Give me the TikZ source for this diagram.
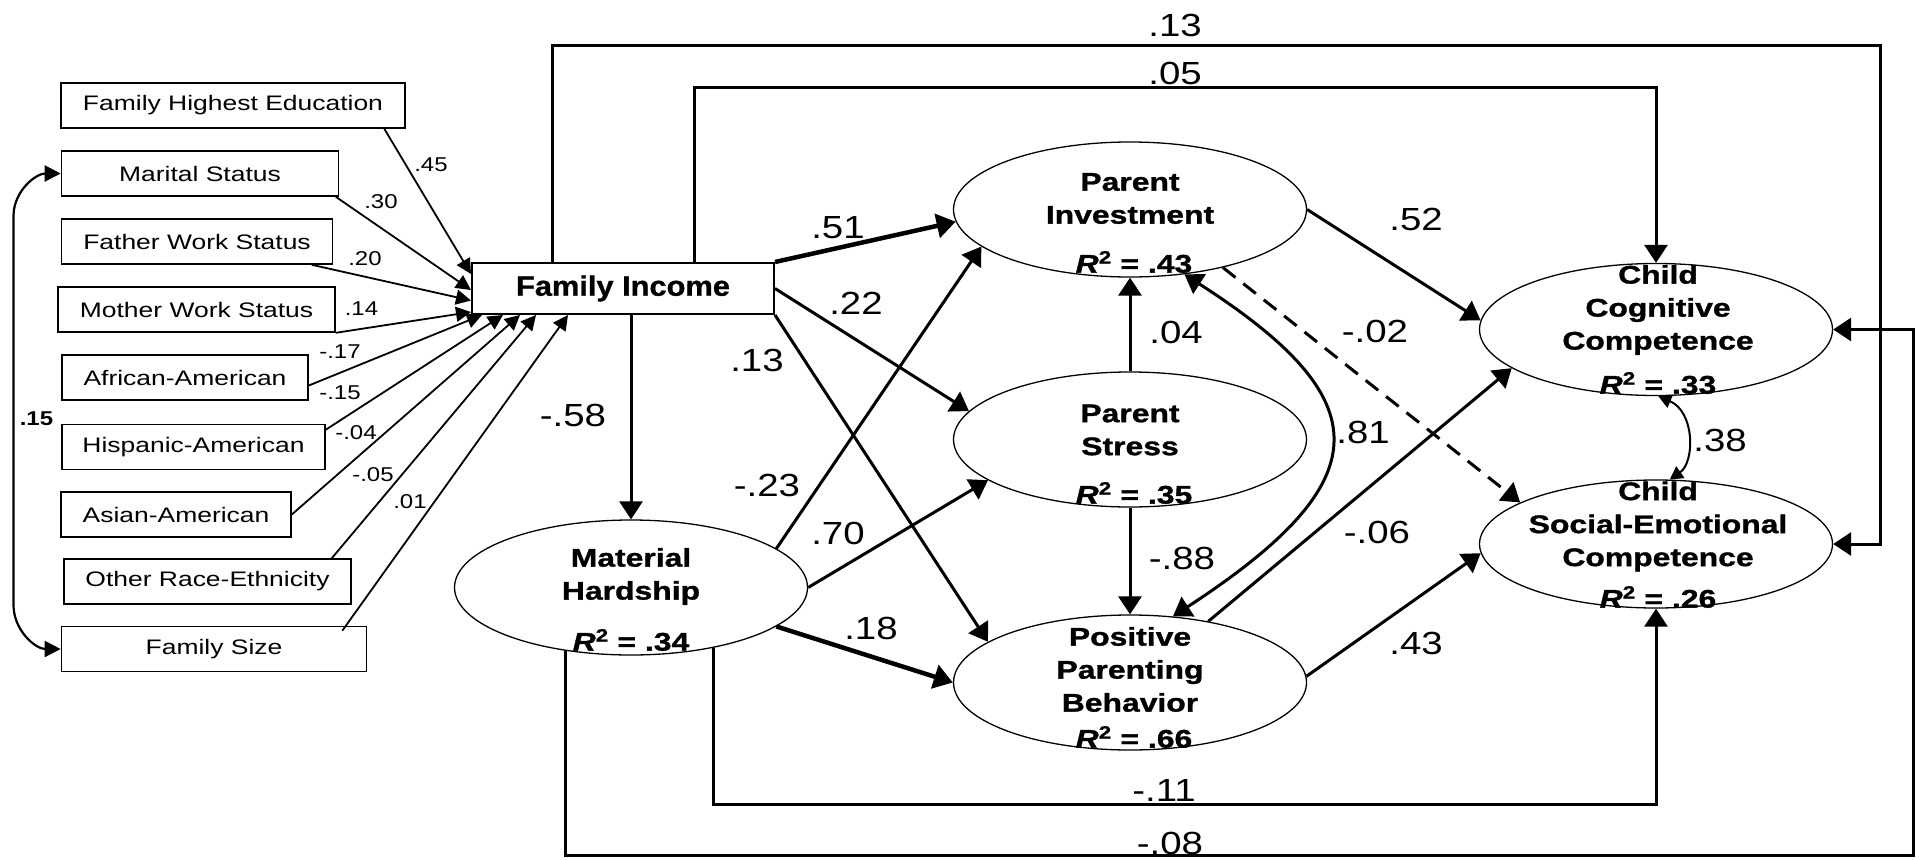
\documentclass[tikz,border=0pt]{standalone}
\usepackage{fontspec}
\setmainfont{Liberation Sans}
\newfontfamily\boxfont[FakeStretch=1.26]{Liberation Sans}
\newfontfamily\latfont[FakeStretch=1.25,FakeBold=1.2]{Liberation Sans}
\newfontfamily\headfont[FakeStretch=1.1,FakeBold=1]{Liberation Sans}
\newfontfamily\numfont[FakeStretch=1.2]{Liberation Sans}
\usetikzlibrary{shapes.geometric,arrows.meta,calc}
\newcommand{\Rsq}[1]{\textit{R}\textsuperscript{2} = #1}

\begin{document}
\begin{tikzpicture}[x=1pt, y=1pt,
    var/.style={draw, line width=1.6pt, minimum height=45pt, inner sep=0pt, font=\boxfont\fontsize{21}{24}\selectfont},
    latent/.style={draw, ellipse, line width=1.3pt, minimum width=353pt, minimum height=132pt, inner sep=0pt},
    lbltext/.style={font=\latfont\bfseries\fontsize{25.5}{33}\selectfont, align=center, inner sep=0pt},
    rsq/.style={font=\latfont\bfseries\fontsize{25.5}{33}\selectfont, inner sep=0pt},
    coef/.style={font=\numfont\fontsize{32}{32}\selectfont, inner sep=0pt},
    smallcoef/.style={font=\numfont\fontsize{20}{20}\selectfont, inner sep=0pt},
    covar/.style={line width=1.8pt, -{Triangle[length=15pt,width=15pt]}},
    effect/.style={line width=3pt, -{Triangle[length=18pt,width=23pt]}},
    bigeffect/.style={line width=4.5pt, -{Triangle[length=19pt,width=24pt]}},
    twoway/.style={line width=3pt, {Triangle[length=18pt,width=23pt]}-{Triangle[length=18pt,width=23pt]}},
    corr/.style={line width=2pt, {Triangle[length=13pt,width=14pt]}-{Triangle[length=13pt,width=14pt]}}]

    \useasboundingbox (0,0) rectangle (1921,-859);

    \node[var, minimum width=344pt] (fhe) at (233,-105.5) {Family Highest Education};
    \node[var, minimum width=277pt] (ms) at (200,-173.5) {Marital Status};
    \node[var, minimum width=271pt] (fws) at (197,-241.5) {Father Work Status};
    \node[var, minimum width=277pt] (mws) at (196.5,-309.5) {Mother Work Status};
    \node[var, minimum width=246pt] (afa) at (185,-377.5) {African-American};
    \node[var, minimum width=263pt] (hia) at (193.5,-447) {Hispanic-American};
    \node[var, minimum width=230pt] (asa) at (176,-514.5) {Asian-American};
    \node[var, minimum width=287pt] (ore) at (207.5,-581.5) {Other Race-Ethnicity};
    \node[var, minimum width=305pt] (fsz) at (214,-649) {Family Size};

    \node[var, line width=2pt, minimum width=302pt, minimum height=51pt,
          font=\headfont\bfseries\fontsize{28}{30}\selectfont] (fi) at (623,-288.5) {Family Income};

    \node[latent, minimum height=135pt] (mh) at (631,-587.5) {};
    \node[latent, minimum height=135pt] (pi) at (1130,-209.5) {};
    \node[latent, minimum height=135pt] (ps) at (1130,-439.5) {};
    \node[latent, minimum height=135pt] (ppb) at (1130,-682.5) {};
    \node[latent] (cc) at (1656,-329.5) {};
    \node[latent, minimum height=128pt] (cse) at (1656,-544) {};

    \node[lbltext] (mhtxt) at (631,-576.5) {Material\\Hardship};
    \node[rsq] (mhr) at (631,-640) {\Rsq{.34}};
    \node[lbltext] (pitxt) at (1130,-198.5) {Parent\\Investment};
    \node[rsq] (pir) at (1134,-262) {\Rsq{.43}};
    \node[lbltext] (pstxt) at (1130,-430) {Parent\\Stress};
    \node[rsq] (psr) at (1134,-493) {\Rsq{.35}};
    \node[lbltext] (ppbtxt) at (1130,-669.5) {Positive\\Parenting\\Behavior};
    \node[rsq] (ppbr) at (1134,-737) {\Rsq{.66}};
    \node[lbltext] (cctxt) at (1658,-310) {Child\\Cognitive\\Competence};
    \node[rsq] (ccr) at (1658,-383) {\Rsq{.33}};
    \node[lbltext] (csetxt) at (1658,-526.5) {Child\\Social-Emotional\\Competence};
    \node[rsq] (cser) at (1658,-597) {\Rsq{.26}};

    \draw[covar] ($(fhe.south east)+(-21.5,0)$) -- ($(fi.north west)+(0,-12)$);
    \draw[covar] ($(ms.south east)+(-3.5,0)$) -- ($(fi.west)+(0,-1.5)$);
    \draw[covar] ($(fws.south east)+(-21.5,0)$) -- ($(fi.west)+(0,-12)$);
    \draw[covar] (mws.south east) -- ($(fi.south west)+(0,3)$);
    \draw[covar] ($(afa.east)+(0,-8)$) -- ($(fi.south west)+(11,0)$);
    \draw[covar] ($(hia.north east)+(0,-6)$) -- ($(fi.south west)+(32,0)$);
    \draw[covar] (asa.east) -- ($(fi.south west)+(49,0)$);
    \draw[covar] ($(ore.north east)+(-20,0)$) -- ($(fi.south west)+(65,0)$);
    \draw[covar] ($(fsz.north east)+(-25,-5)$) -- ($(fi.south west)+(97,0)$);
    \draw[line width=2.2pt, {Triangle[length=16pt,width=16pt]}-{Triangle[length=16pt,width=16pt]}]
        (ms.west) to[out=180, in=90] (13.5,-216) -- (13.5,-605) to[out=-90, in=180] (fsz.west);

    \node[smallcoef] (l45) at (431,-165) {.45};
    \node[smallcoef] (l30) at (381,-202) {.30};
    \node[smallcoef] (l20) at (365,-259) {.20};
    \node[smallcoef] (l14) at (361.5,-309) {.14};
    \node[smallcoef] (l17) at (340,-352) {-.17};
    \node[smallcoef] (l15) at (340,-393) {-.15};
    \node[smallcoef] (l04) at (356,-433) {-.04};
    \node[smallcoef] (l05) at (373,-475) {-.05};
    \node[smallcoef] (l01) at (410,-502) {.01};
    \node[smallcoef, font=\numfont\bfseries\fontsize{20}{20}\selectfont] (lfs) at (36.5,-419) {.15};

    \draw[bigeffect] (fi.north east) -- (pi.184.5);
    \draw[effect] (fi.east) -- (ps.170);
    \draw[effect] (fi.south east) -- (ppb.164);
    \draw[effect] (fi.south -| mh.north) -- (mh.north);
    \draw[effect] ($(fi.north west)+(81,0)$) -- ++(0,216) -| ($(cse.east)+(47,0)$) -- (cse.east);
    \draw[effect] ($(fi.north west)+(223,0)$) -- ++(0,175) -| (cc.north);

    \draw[effect] (mh.15.8) -- (pi.194.7);
    \draw[effect] (mh.east) -- (ps.196);
    \draw[bigeffect] (mh.-15.8) -- (ppb.west);
    \draw[effect] (mh.-36.3) -- ++(0,-157) -| (cse.south);
    \draw[effect] (mh.-136) -- ++(0,-205) -| ($(cc.east)+(80,0)$) -- (cc.east);

    \draw[effect] (ps.north) -- (pi.south);
    \draw[effect] (ps.south) -- (ppb.north);
    \draw[effect] (pi.east) -- (cc.177.4);
    \draw[effect, dash pattern=on 16pt off 10pt] (pi.-32.2) -- (cse.163.2);
    \draw[twoway] (pi.-50) .. controls (1380,-400) and (1382,-480) .. (ppb.57);
    \draw[effect] (ppb.38.5) -- (cc.195);
    \draw[effect] (ppb.2) -- (cse.183);
    \draw[corr] (cc.-88) .. controls (1695,-412) and (1695,-462) .. (cse.78);

    \node[coef] (c51) at (838,-228) {.51};
    \node[coef] (c22) at (856,-303) {.22};
    \node[coef] (c13a) at (757,-360) {.13};
    \node[coef] (c58) at (573,-415) {-.58};
    \node[coef] (c13b) at (1175,-25) {.13};
    \node[coef] (c05) at (1175,-73) {.05};
    \node[coef] (c23) at (767,-485) {-.23};
    \node[coef] (c70) at (838,-533) {.70};
    \node[coef] (c18) at (871,-628) {.18};
    \node[coef] (c11) at (1164,-790) {-.11};
    \node[coef] (c08) at (1170,-843) {-.08};
    \node[coef] (c52) at (1416,-219) {.52};
    \node[coef] (c02) at (1375,-331) {-.02};
    \node[coef] (c04) at (1176,-332) {.04};
    \node[coef] (c88) at (1182,-558) {-.88};
    \node[coef] (c81) at (1363,-432) {.81};
    \node[coef] (c06) at (1377,-532) {-.06};
    \node[coef] (c43) at (1416,-643) {.43};
    \node[coef] (c38) at (1720,-440) {.38};
\end{tikzpicture}
\end{document}
